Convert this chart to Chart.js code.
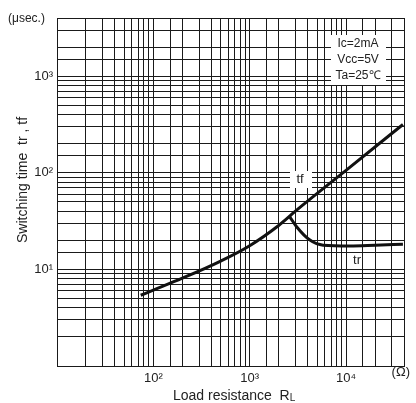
<!DOCTYPE html>
<html>
<head>
<meta charset="utf-8">
<script src="https://cdn.jsdelivr.net/npm/chart.js@4/dist/chart.umd.min.js"></script>
<style>
  html, body { margin: 0; padding: 0; background: #fff; }
  #wrap { width: 416px; height: 403px; }
</style>
</head>
<body>
<div id="wrap"><canvas id="myChart" width="416" height="403"></canvas></div>
<script>
// load resistance (ohm) vs switching time (usec)
const tfX = [74, 100, 200, 500, 1000, 2000, 3160, 10000, 39000];
const tfY = [5.4, 6.1, 8.1, 12.2, 17.6, 28.5, 42, 106, 316];
const trX = [2610, 3070, 4220, 5800, 11000, 20000, 39000];
const trY = [35, 27.6, 20.1, 17.8, 17.5, 17.8, 18.2];

const xTickValues = [100, 1000, 10000];
const xTickLabels = ['10²', '10³', '10⁴'];
const yTickValues = [10, 100, 1000];
const yTickLabels = ['10¹', '10²', '10³'];

const conditions = ['Ic=2mA', 'Vcc=5V', 'Ta=25℃'];

const FONT = "'Liberation Sans', Arial, sans-serif";

function toPoints(xs, ys) {
    return xs.map((x, i) => ({ x: x, y: ys[i] }));
}

function tickLabel(values, labels) {
    return function (value) {
        const i = values.indexOf(Number(value));
        return i >= 0 ? labels[i] : '';
    };
}

const textPlugin = {
    id: 'texts',
    afterDraw(chart) {
        const c = chart.ctx;
        c.save();
        c.fillStyle = '#222';
        c.textBaseline = 'middle';

        // unit labels
        c.font = '12px ' + FONT;
        c.textAlign = 'left';
        c.fillText('(μsec.)', 8, 19);
        c.font = '13px ' + FONT;
        c.textAlign = 'right';
        c.fillText('(Ω)', 410, 372);

        // x title
        c.font = '14px ' + FONT;
        c.textAlign = 'left';
        c.fillText('Load resistance  R', 173, 396);
        const w = c.measureText('Load resistance  R').width;
        c.font = '10px ' + FONT;
        c.fillText('L', 173 + w, 398);

        // y title
        c.save();
        c.translate(23, 180);
        c.rotate(-Math.PI / 2);
        c.font = '14px ' + FONT;
        c.textAlign = 'center';
        c.fillText('Switching time  tr , tf', 0, 0);
        c.restore();

        // conditions box
        c.fillStyle = '#fff';
        c.fillRect(331, 35, 55, 50);
        c.fillStyle = '#222';
        c.font = '12px ' + FONT;
        c.textAlign = 'center';
        conditions.forEach((t, i) => c.fillText(t, 358, 44 + i * 16));

        // curve labels
        c.fillStyle = '#fff';
        c.fillRect(290, 171, 22, 17);
        c.fillStyle = '#222';
        c.font = '13px ' + FONT;
        c.fillText('tf', 300, 179);
        c.fillText('tr', 357, 260);
        c.restore();
    }
};

const ctx = document.getElementById('myChart').getContext('2d');
const myChart = new Chart(ctx, {
    type: 'scatter',
    data: {
        datasets: [
            {
                label: 'tf',
                data: toPoints(tfX, tfY),
                showLine: true,
                borderColor: '#111',
                borderWidth: 3,
                pointRadius: 0,
                cubicInterpolationMode: 'monotone',
            },
            {
                label: 'tr',
                data: toPoints(trX, trY),
                showLine: true,
                borderColor: '#111',
                borderWidth: 3,
                pointRadius: 0,
                cubicInterpolationMode: 'monotone',
            },
        ],
    },
    options: {
        responsive: false,
        animation: false,
        layout: { padding: { left: 0, top: 18, right: 12, bottom: 0 } },
        plugins: {
            legend: { display: false },
            tooltip: { enabled: false },
        },
        scales: {
            x: {
                type: 'logarithmic',
                min: 10,
                max: 40000,
                afterFit(scale) { scale.height = 37; },
                grid: { color: '#1a1a1a', lineWidth: 1, drawTicks: false },
                border: { color: '#1a1a1a', width: 1 },
                ticks: {
                    autoSkip: false,
                    maxRotation: 0,
                    padding: 5,
                    color: '#222',
                    font: { family: FONT, size: 13 },
                    callback: tickLabel(xTickValues, xTickLabels),
                },
            },
            y: {
                type: 'logarithmic',
                min: 1,
                max: 4000,
                afterFit(scale) { scale.width = 57; },
                grid: { color: '#1a1a1a', lineWidth: 1, drawTicks: false },
                border: { color: '#1a1a1a', width: 1 },
                ticks: {
                    autoSkip: false,
                    padding: 4,
                    color: '#222',
                    font: { family: FONT, size: 13 },
                    callback: tickLabel(yTickValues, yTickLabels),
                },
            },
        },
    },
    plugins: [textPlugin],
});
</script>
</body>
</html>
